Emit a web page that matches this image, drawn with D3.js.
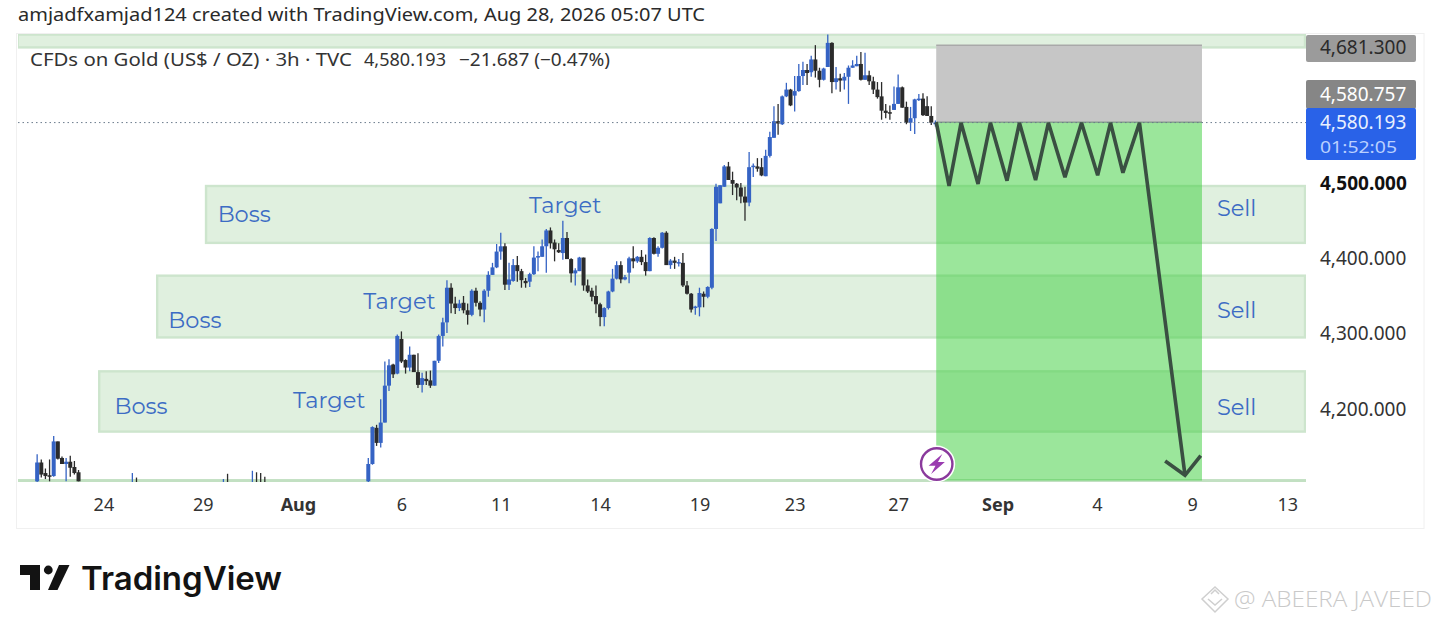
<!DOCTYPE html>
<html><head><meta charset="utf-8">
<style>html,body{margin:0;padding:0;background:#fff}svg{display:block}text{font-family:"Noto Sans",sans-serif}</style>
<script src="https://cdn.jsdelivr.net/npm/d3@7/dist/d3.min.js"></script>
</head><body><svg id="c" width="1440" height="624"></svg>
<script>
// --- data (prices; bars are numbered from the rally's first visible candle)
const barIndex = d3.range(-79,-68).concat([-56,-55,-34,-33,-27,-26,-25,-24]).concat(d3.range(1,139));
const opens = [4104,4129,4115,4112,4111,4157,4135,4127,4130,4123,4116,
 4090,4095,4090,4095,4090,4095,4095,4095,
 4104,4127,4175,4155,4182,4231,4259,4247,4293,4265,
 4255,4272,4249,4232,4240,4238,4231,4264,4297,4315,
 4361,4340,4334,4341,4331,4325,4357,4341,4332,4357,
 4378,4388,4409,4416,4365,4370,4391,4383,4370,4369,
 4379,4402,4402,4416,4437,4421,4411,4407,4427,4399,
 4380,4383,4401,4364,4357,4350,4339,4322,4334,4356,
 4373,4391,4372,4381,4400,4396,4402,4395,4383,4427,
 4406,4414,4434,4391,4397,4394,4394,4364,4353,4334,
 4335,4353,4349,4361,4439,4473,4495,4522,4504,4499,
 4494,4482,4474,4521,4522,4521,4509,4536,4560,4582,
 4578,4615,4624,4616,4622,4642,4650,4647,4664,4649,
 4637,4654,4686,4634,4639,4636,4641,4653,4655,4658,
 4637,4643,4635,4624,4615,4596,4594,4597,4605,4627,
 4601,4580,4586,4610,4612,4602,4589,4578];
const highs = [4140,4133,4121,4133,4164,4157,4137,4135,4138,4131,4119,
 4115,4109,4107,4114,4118,4116,4115,4110,
 4135,4177,4179,4213,4263,4266,4260,4299,4303,4266,
 4283,4272,4274,4248,4250,4251,4264,4299,4321,4371,
 4367,4349,4345,4350,4340,4359,4361,4343,4359,4383,
 4394,4419,4434,4420,4394,4399,4403,4386,4374,4381,
 4416,4409,4425,4439,4441,4425,4420,4450,4435,4400,
 4387,4402,4401,4372,4361,4364,4341,4335,4357,4386,
 4396,4396,4378,4402,4416,4403,4411,4405,4428,4428,
 4416,4435,4436,4399,4402,4399,4407,4370,4354,4337,
 4361,4356,4363,4440,4499,4497,4524,4528,4515,4500,
 4500,4495,4541,4526,4533,4533,4544,4568,4602,4605,
 4616,4633,4625,4642,4658,4661,4658,4669,4683,4653,
 4653,4697,4687,4654,4645,4646,4656,4663,4669,4674,
 4673,4649,4641,4634,4634,4605,4603,4628,4644,4628,
 4608,4601,4612,4618,4619,4615,4602,4583];
const lows = [4100,4109,4107,4104,4110,4133,4127,4104,4110,4113,4104,
 4085,4085,4085,4085,4085,4085,4085,4085,
 4100,4126,4151,4149,4182,4224,4241,4246,4261,4247,
 4250,4249,4228,4222,4232,4228,4231,4261,4283,4301,
 4327,4326,4330,4327,4312,4323,4336,4323,4315,4349,
 4378,4387,4398,4358,4358,4369,4369,4361,4361,4362,
 4378,4383,4402,4381,4413,4396,4407,4398,4399,4368,
 4364,4383,4357,4354,4343,4327,4310,4310,4332,4355,
 4372,4367,4371,4367,4387,4394,4391,4377,4383,4405,
 4402,4413,4391,4386,4386,4389,4362,4352,4328,4325,
 4323,4335,4347,4359,4423,4473,4495,4504,4484,4477,
 4473,4450,4469,4508,4515,4509,4509,4534,4560,4564,
 4577,4614,4602,4595,4621,4630,4630,4641,4640,4627,
 4636,4654,4619,4624,4621,4624,4605,4653,4655,4636,
 4637,4630,4618,4612,4584,4586,4584,4597,4605,4600,
 4578,4569,4565,4609,4589,4589,4577,4575];
const closes = [4129,4113,4111,4110,4157,4134,4127,4130,4122,4115,4104,
 4095,4090,4095,4090,4095,4090,4090,4090,
 4127,4176,4155,4182,4231,4258,4246,4297,4263,4255,
 4272,4249,4232,4241,4237,4231,4264,4297,4315,4361,
 4340,4334,4340,4331,4325,4357,4341,4332,4357,4378,
 4388,4409,4416,4365,4372,4391,4383,4371,4367,4379,
 4401,4403,4416,4437,4420,4412,4408,4427,4399,4380,
 4384,4401,4364,4356,4349,4339,4322,4334,4356,4373,
 4391,4372,4375,4400,4396,4402,4395,4383,4427,4406,
 4414,4434,4391,4397,4394,4395,4364,4353,4332,4336,
 4354,4349,4362,4439,4495,4497,4522,4504,4499,4494,
 4482,4474,4521,4523,4519,4510,4536,4561,4582,4579,
 4615,4624,4603,4622,4642,4650,4646,4664,4649,4637,
 4652,4686,4634,4639,4636,4641,4653,4656,4658,4637,
 4643,4635,4624,4614,4596,4593,4593,4605,4627,4600,
 4580,4586,4611,4612,4590,4589,4580,4580.193];

const xTickBars = [-63,-39,-16,9,33,57,81,104,129,153,177,200,223];
const xTickLabels = ["24","29","Aug","6","11","14","19","23","27","Sep","4","9","13"];
const xTickBold = ["Aug","Sep"];
const yTicks = [4500,4400,4300,4200];

const zoneTop = [4697,4496,4377,4250];
const zoneBottom = [4680,4420.5,4295,4170];
const zoneStart = [-83.7,-38.2,-50,-64];
const bottomZoneTop = 4107, bottomZoneBottom = 4103;

const tradeStart = 138.2, tradeEnd = 202.4;
const stopPrice = 4682.8, entryPrice = 4580.757, targetPrice = 4105;
const lastPrice = 4580.193;

const zigBars = [138.2,141.3,144.2,148.3,151.3,155.3,158.3,162.2,165.3,169.3,173.3,177.2,180.3,183.3,187.3,198.3];
const zigPrices = [4580.7,4496,4579.9,4498.7,4579.9,4503,4579.9,4504,4579.9,4507.5,4579.9,4510.2,4579.9,4513.6,4579.9,4112];
const arrowBars = [193.5,198.3,202.1];
const arrowPrices = [4131,4112,4138];

const noteTexts = ["Boss","Boss","Boss","Target","Target","Target","Sell","Sell","Sell"];
const noteBars = [-35.4,-47.3,-60.3,39.8,-0.2,-17.2,206,206,206];
const notePrices = [4447.9,4307,4193.4,4460.4,4333.4,4201.3,4456.7,4320.4,4192];

const priceTags = [4681.300,4580.757];
const legendTitle = "CFDs on Gold (US$ / OZ) · 3h · TVC";
const legendPrice = "4,580.193";
const legendChange = "−21.687 (−0.47%)";
// --- scales
const W=1440,H=624;
const x=d3.scaleLinear().domain([1,138]).range([368.3,935.4]);
const y=d3.scaleLinear().domain([4200,4500]).range([409,183]);
const svg=d3.select("#c");
const fmt=d3.format(",.3f");
const plotL=18,plotR=1306,plotT=34,plotB=482;
const defs=svg.append("defs");
defs.append("clipPath").attr("id","plot").append("rect").attr("x",plotL).attr("y",plotT).attr("width",plotR-plotL).attr("height",plotB-plotT);
// frame
svg.append("rect").attr("x",16.5).attr("y",33.5).attr("width",1407.5).attr("height",495).attr("fill","#fff").attr("stroke","#f0f0f0");
// header
svg.append("text").attr("x",18).attr("y",21).attr("font-size",18).attr("fill","#2a2a2a").attr("textLength",687).attr("lengthAdjust","spacingAndGlyphs").text("amjadfxamjad124 created with TradingView.com, Aug 28, 2026 05:07 UTC");
const plot=svg.append("g").attr("clip-path","url(#plot)");
// zones
const zoneFill="#e0f0df",zoneStroke="#cde5cd";
plot.selectAll("rect.zone").data(zoneTop).join("rect").attr("class","zone")
 .attr("x",(d,i)=>x(zoneStart[i])).attr("y",d=>y(d))
 .attr("width",(d,i)=>plotR-1-x(zoneStart[i])).attr("height",(d,i)=>y(zoneBottom[i])-y(d))
 .attr("fill",zoneFill).attr("stroke",zoneStroke).attr("stroke-width",2.4);
plot.append("rect").attr("x",plotL).attr("y",y(bottomZoneTop)).attr("width",plotR-plotL).attr("height",y(bottomZoneBottom)-y(bottomZoneTop)).attr("fill","#c2e0c2");
// dotted last price
svg.append("line").attr("x1",plotL).attr("x2",plotR).attr("y1",y(lastPrice)).attr("y2",y(lastPrice)).attr("stroke","#6b7b8c").attr("stroke-width",1).attr("stroke-dasharray","1.5 3");
// candles
const bars=barIndex.map((b,i)=>({b,o:opens[i],h:highs[i],l:lows[i],c:closes[i]}));
const up="#3563c4",down="#2b2b2b",cw=4;
const g=plot.selectAll("g.bar").data(bars).join("g").attr("class","bar");
g.append("line").attr("x1",d=>x(d.b)).attr("x2",d=>x(d.b)).attr("y1",d=>y(d.h)).attr("y2",d=>y(d.l)).attr("stroke",d=>d.c>=d.o?up:down).attr("stroke-width",1.3);
g.append("rect").attr("x",d=>x(d.b)-cw/2).attr("width",cw).attr("y",d=>y(Math.max(d.o,d.c))).attr("height",d=>Math.max(1.5,Math.abs(y(d.o)-y(d.c)))).attr("fill",d=>d.c>=d.o?up:down);
// trade box
plot.append("rect").attr("x",x(tradeStart)).attr("width",x(tradeEnd)-x(tradeStart)).attr("y",y(stopPrice)).attr("height",y(entryPrice)-y(stopPrice)).attr("fill","#c6c6c6");
plot.append("line").attr("x1",x(tradeStart)).attr("x2",x(tradeEnd)).attr("y1",y(stopPrice)).attr("y2",y(stopPrice)).attr("stroke","#a9a9a9").attr("stroke-width",1.5);
plot.append("rect").attr("x",x(tradeStart)).attr("width",x(tradeEnd)-x(tradeStart)).attr("y",y(entryPrice)).attr("height",y(targetPrice)-y(entryPrice)).attr("fill","#3fcf3f").attr("fill-opacity",.52);
plot.append("line").attr("x1",x(tradeStart)).attr("x2",x(tradeEnd)).attr("y1",y(entryPrice)).attr("y2",y(entryPrice)).attr("stroke","#6f8a78").attr("stroke-width",1);
// zigzag
const line=d3.line().x(d=>x(d[0])).y(d=>y(d[1])).curve(d3.curveLinear);
const lineCol="#3a4f42";
svg.append("path").attr("d",line(d3.zip(zigBars,zigPrices))).attr("fill","none").attr("stroke",lineCol).attr("stroke-width",3.6).attr("stroke-linejoin","miter").attr("stroke-miterlimit",3);
svg.append("path").attr("d",line(d3.zip(arrowBars,arrowPrices))).attr("fill","none").attr("stroke",lineCol).attr("stroke-width",3.6);
// notes
svg.selectAll("text.note").data(noteTexts).join("text").attr("class","note")
 .attr("x",(d,i)=>x(noteBars[i])).attr("y",(d,i)=>y(notePrices[i]))
 .style("font-family","Montserrat,Inter,'Open Sans',sans-serif").attr("font-size",22.5).attr("fill","#3c6cc4").text(d=>d);
// legend line
const lgY=66;
svg.append("text").attr("x",30).attr("y",lgY).attr("font-size",18).attr("fill","#333").attr("textLength",322).attr("lengthAdjust","spacingAndGlyphs").text(legendTitle);
svg.append("text").attr("x",364).attr("y",lgY).attr("font-size",18).attr("fill","#333").attr("textLength",82).attr("lengthAdjust","spacingAndGlyphs").text(legendPrice);
svg.append("text").attr("x",459).attr("y",lgY).attr("font-size",18).attr("fill","#333").attr("textLength",151).attr("lengthAdjust","spacingAndGlyphs").text(legendChange);
// lightning
const bx=x(tradeStart)+0.5,by=y(4127);
svg.append("circle").attr("cx",bx).attr("cy",by).attr("r",18.5).attr("fill","#fff");
svg.append("circle").attr("cx",bx).attr("cy",by).attr("r",15.7).attr("fill","#fff").attr("stroke","#8a3a9c").attr("stroke-width",2.4);
svg.append("path").attr("transform",`translate(${bx},${by}) scale(1.25)`).attr("d","M4.5,-8 L-6.5,1.5 L-1,1.5 L-4.5,8 L6.5,-1.5 L1,-1.5 Z").attr("fill","#9a3cb0");
// y axis
const yAxis=d3.axisRight(y).tickValues(yTicks).tickSize(0).tickPadding(0).tickFormat(fmt);
const ya=svg.append("g").attr("transform","translate(1320,0)").call(yAxis);
ya.select(".domain").remove();
ya.selectAll("text").attr("font-size",19).style("font-family","'Noto Sans',sans-serif")
 .attr("font-weight",d=>d===4500?"700":"400").attr("fill",d=>d===4500?"#111":"#333");
// x axis
const xAxis=d3.axisBottom(x).tickValues(xTickBars).tickSize(0).tickPadding(0).tickFormat((d,i)=>xTickLabels[i]);
const xa=svg.append("g").attr("transform","translate(0,498)").call(xAxis);
xa.select(".domain").remove();
xa.selectAll("text").attr("font-size",18).style("font-family","'Noto Sans',sans-serif").attr("fill","#333")
 .attr("font-weight",(d,i)=>xTickBold.includes(xTickLabels[i])?"700":"400");
// price tags
const tagX=1306,tagW=110;
svg.append("rect").attr("x",tagX).attr("y",35).attr("width",tagW).attr("height",27).attr("rx",2).attr("fill","#9b9b9b");
svg.append("rect").attr("x",tagX).attr("y",80).attr("width",tagW).attr("height",29).attr("rx",2).attr("fill","#868686");
svg.append("rect").attr("x",tagX).attr("y",108).attr("width",tagW).attr("height",52).attr("rx",2).attr("fill","#2962e8");
svg.append("text").attr("x",1320).attr("y",54).attr("font-size",19).attr("fill","#2a2a2a").text(fmt(priceTags[0]));
svg.append("text").attr("x",1320).attr("y",101).attr("font-size",19).attr("fill","#fff").text(fmt(priceTags[1]));
svg.append("text").attr("x",1320).attr("y",129).attr("font-size",19).attr("fill","#e8f0ff").text(fmt(lastPrice));
svg.append("text").attr("x",1320).attr("y",153).attr("font-size",17).attr("fill","#b9d0ff").attr("textLength",77).attr("lengthAdjust","spacingAndGlyphs").text("01:52:05");
// logo
const lg=svg.append("g").attr("fill","#131313");
lg.append("path").attr("d","M20,565 H40 V590 H30 V575 H20 Z");
lg.append("circle").attr("cx",48.3).attr("cy",570).attr("r",4.4);
lg.append("path").attr("d","M59,565 H69.5 L57.5,590 H48 Z");
svg.append("text").attr("x",81).attr("y",590).style("font-family","Inter,'Noto Sans',sans-serif").attr("font-size",32).attr("font-weight",600).attr("fill","#131313").attr("textLength",201).attr("lengthAdjust","spacingAndGlyphs").text("TradingView");
// watermark
const wm=svg.append("g").attr("fill","none").attr("stroke","#cfcfcf").attr("stroke-width",1.5);
wm.append("path").attr("d","M1215,587 L1228,599 L1215,612 L1202,599 Z");
wm.append("path").attr("d","M1208,599 L1215,605 L1222,599");
wm.append("path").attr("d","M1211,594 L1215,590 L1219,594");
svg.append("text").attr("x",1234).attr("y",607).style("font-family","'Open Sans',sans-serif").attr("font-size",22).attr("font-weight",300).attr("fill","#c9c9c9").attr("textLength",198).attr("lengthAdjust","spacingAndGlyphs").text("@ ABEERA JAVEED");
</script></body></html>
